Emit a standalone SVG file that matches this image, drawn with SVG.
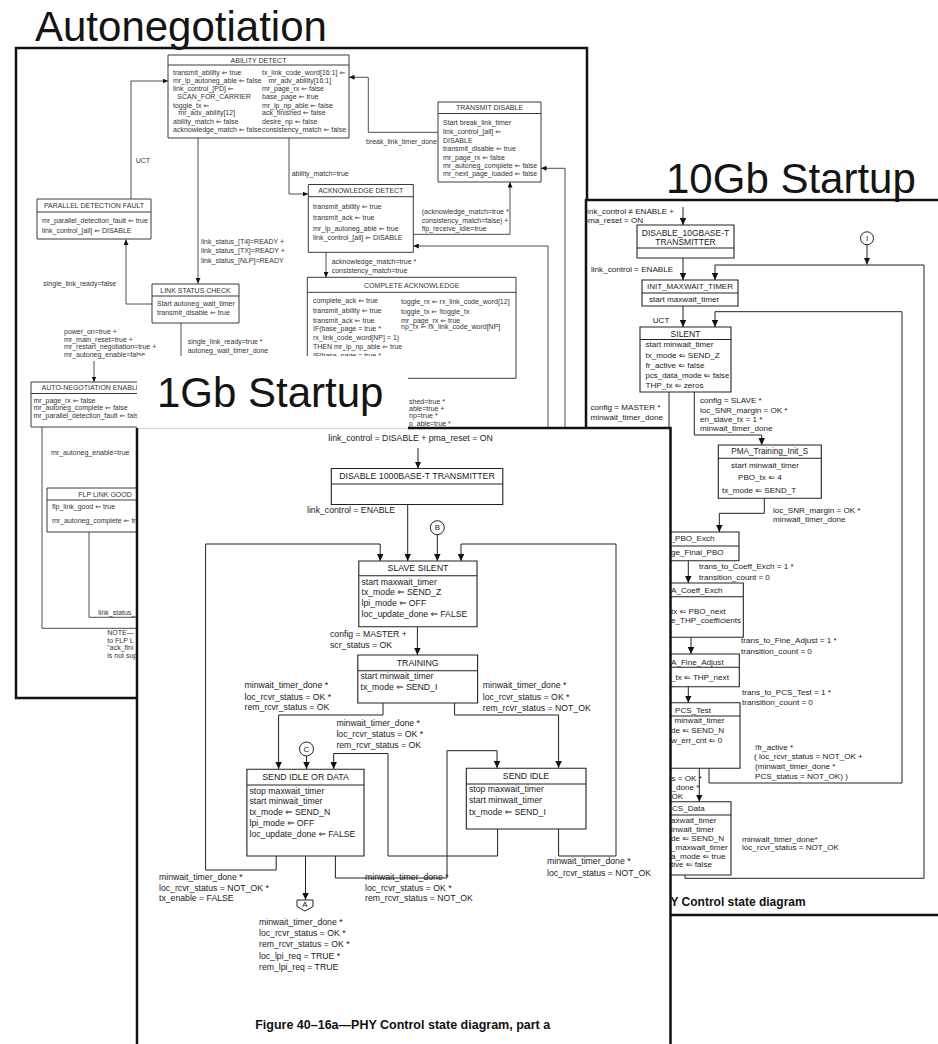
<svg xmlns="http://www.w3.org/2000/svg" width="938" height="1044" viewBox="0 0 938 1044">
<style>
  text { font-family: "Liberation Sans", "DejaVu Sans", Arial, sans-serif; dominant-baseline: central; }
  .title { font-size: 42px; fill: #141414; dominant-baseline: auto; }
  .an { font-size: 7px; fill: #333; }
  .anh { font-size: 7px; fill: #333; text-anchor: middle; }
  .t10 { font-size: 8.1px; fill: #1a1a1a; }
  .h10 { font-size: 8.5px; fill: #1a1a1a; text-anchor: middle; }
  .t1 { font-size: 8.7px; fill: #1a1a1a; }
  .h1 { font-size: 8.8px; fill: #1a1a1a; text-anchor: middle; }
  .cap { font-weight: bold; fill: #111; }
  .page { fill: #fff; stroke: #111; stroke-width: 2.5; }
  .abox { fill: none; stroke: #3a3a3a; stroke-width: 1; }
  .aln { fill: none; stroke: #3a3a3a; stroke-width: 0.9; }
  .box { fill: none; stroke: #222; stroke-width: 1.1; }
  .ln { fill: none; stroke: #222; stroke-width: 1; }
  .arr-s { marker-end: url(#ah-s); }
  .arr { marker-end: url(#ah); }
</style>
<defs>
  <marker id="ah-s" viewBox="0 0 10 10" refX="10" refY="5" markerWidth="5.5" markerHeight="5" markerUnits="userSpaceOnUse" orient="auto" preserveAspectRatio="none">
    <path d="M0,0 L10,5 L0,10 z" fill="#111"/>
  </marker>
  <marker id="ah" viewBox="0 0 10 10" refX="10" refY="5" markerWidth="7" markerHeight="6.5" markerUnits="userSpaceOnUse" orient="auto" preserveAspectRatio="none">
    <path d="M0,0 L10,5 L0,10 z" fill="#111"/>
  </marker>
  <clipPath id="clip10">
    <rect x="587.4" y="201.3" width="351" height="712.5"/>
  </clipPath>
</defs>

<rect width="938" height="1044" fill="#fff"/>

<!-- ===== Auto-negotiation arbitration page ===== -->
<g id="autoneg">
  <rect class="page" x="16" y="48" width="571" height="650"/>

  <g id="an-connectors">
    <polyline class="aln arr-s" points="131,199 131,81 168,81"/>
    <line class="aln arr-s" x1="198" y1="138" x2="198" y2="283.5"/>
    <polyline class="aln arr-s" points="152,304 126,304 126,239.5"/>
    <line class="aln" x1="181" y1="323" x2="181" y2="372"/>
    <line class="aln arr-s" x1="94" y1="361" x2="94" y2="382"/>
    <polyline class="aln" points="42,427 42,628.3 145,628.3"/>
    <polyline class="aln" points="89,532 89,617.3 145,617.3"/>
    <polyline class="aln arr-s" points="438,132.3 368.3,132.3 368.3,77.3 349,77.3"/>
    <polyline class="aln arr-s" points="289,138 289,194 308,194"/>
    <polyline class="aln arr-s" points="413,234.3 510,234.3 510,182"/>
    <polyline class="aln arr-s" points="548,700 548,246 413.3,246"/>
    <polyline class="aln arr-s" points="565,700 565,168.3 541,168.3"/>
    <line class="aln arr-s" x1="326" y1="252.3" x2="326" y2="277.3"/>
  </g>

  <g id="an-labels">
    <text class="an" x="135.7" y="160.7">UCT</text>
    <text class="an" x="201" y="241.7">link_status_[T4]=READY +</text>
    <text class="an" x="201" y="250.7">link_status_[TX]=READY +</text>
    <text class="an" x="201" y="260">link_status_[NLP]=READY</text>
    <text class="an" x="43.3" y="283">single_link_ready=false</text>
    <text class="an" x="187.7" y="341">single_link_ready=true *</text>
    <text class="an" x="187.7" y="350">autoneg_wait_timer_done</text>
    <text class="an" x="64" y="331">power_on=true +</text>
    <text class="an" x="64" y="339">mr_main_reset=true +</text>
    <text class="an" x="64" y="346.5">mr_restart_negotiation=true +</text>
    <text class="an" x="64" y="354">mr_autoneg_enable=false</text>
    <text class="an" x="51" y="452.3">mr_autoneg_enable=true</text>
    <text class="an" x="98.3" y="612.7">link_status_</text>
    <text class="an" x="107.3" y="632.3">NOTE—</text>
    <text class="an" x="107.3" y="640">to FLP L</text>
    <text class="an" x="107.3" y="647.3">"ack_fini</text>
    <text class="an" x="107.3" y="655">is not sup</text>
    <text class="an" x="366" y="141.7">break_link_timer_done</text>
    <text class="an" x="291.7" y="173.3">ability_match=true</text>
    <text class="an" x="421.7" y="211">(acknowledge_match=true *</text>
    <text class="an" x="421.7" y="220">consistency_match=false) +</text>
    <text class="an" x="421.7" y="228.5">flp_receive_idle=true</text>
    <text class="an" x="331.7" y="261.7">acknowledge_match=true *</text>
    <text class="an" x="331.7" y="270">consistency_match=true</text>
    <text class="an" x="409" y="401">shed=true *</text>
    <text class="an" x="409" y="408">able=true +</text>
    <text class="an" x="409" y="415.7">np=true *</text>
    <text class="an" x="409" y="423.3">p_able=true *</text>
  </g>

  <g id="ability-detect">
    <path class="abox" d="M168,55h181v83h-181z M168,65h181"/>
    <text class="anh" x="258.5" y="60">ABILITY DETECT</text>
    <text class="an" x="173" y="72.7">transmit_ability ⇐ true</text>
    <text class="an" x="173" y="80.3">mr_lp_autoneg_able ⇐ false</text>
    <text class="an" x="173" y="88.3">link_control_[PD] ⇐</text>
    <text class="an" x="177.3" y="96.7">SCAN_FOR_CARRIER</text>
    <text class="an" x="173" y="105">toggle_tx ⇐</text>
    <text class="an" x="178.3" y="112.7">mr_adv_ability[12]</text>
    <text class="an" x="173" y="121">ability_match ⇐ false</text>
    <text class="an" x="173" y="129.3">acknowledge_match ⇐ false</text>
    <text class="an" x="262" y="72.7">tx_link_code_word[16:1] ⇐</text>
    <text class="an" x="268.5" y="80.3">mr_adv_ability[16:1]</text>
    <text class="an" x="262" y="88.3">mr_page_rx ⇐ false</text>
    <text class="an" x="262" y="96.7">base_page ⇐ true</text>
    <text class="an" x="262" y="105">mr_lp_np_able ⇐ false</text>
    <text class="an" x="262" y="112.7">ack_finished ⇐ false</text>
    <text class="an" x="262" y="121">desire_np ⇐ false</text>
    <text class="an" x="262" y="129.3">consistency_match ⇐ false</text>
  </g>

  <g id="parallel-detection-fault">
    <path class="abox" d="M37,199h114v40h-114z M37,212h114"/>
    <text class="anh" x="94" y="205.5">PARALLEL DETECTION FAULT</text>
    <text class="an" x="42" y="220.7">mr_parallel_detection_fault ⇐ true</text>
    <text class="an" x="42" y="230">link_control_[all] ⇐ DISABLE</text>
  </g>

  <g id="link-status-check">
    <path class="abox" d="M152,284h87v39h-87z M152,296h87"/>
    <text class="anh" x="195.5" y="290">LINK STATUS CHECK</text>
    <text class="an" x="157" y="303.5">Start autoneg_wait_timer</text>
    <text class="an" x="157" y="312.5">transmit_disable ⇐ true</text>
  </g>

  <g id="auto-negotiation-enable">
    <path class="abox" d="M31,382h120v45h-120z M31,393.5h120"/>
    <text class="anh" x="91" y="387.7">AUTO-NEGOTIATION ENABLE</text>
    <text class="an" x="33.5" y="400">mr_page_rx ⇐ false</text>
    <text class="an" x="33.5" y="407.7">mr_autoneg_complete ⇐ false</text>
    <text class="an" x="33.5" y="415">mr_parallel_detection_fault ⇐ false</text>
  </g>

  <g id="flp-link-good">
    <path class="abox" d="M47,488h116v44h-116z M47,500h116"/>
    <text class="anh" x="105" y="494.3">FLP LINK GOOD</text>
    <text class="an" x="52" y="506">flp_link_good ⇐ true</text>
    <text class="an" x="52" y="520.7">mr_autoneg_complete ⇐ true</text>
  </g>

  <g id="transmit-disable">
    <path class="abox" d="M438,102h103v80h-103z M438,113.5h103"/>
    <text class="anh" x="489.5" y="107.7">TRANSMIT DISABLE</text>
    <text class="an" x="443" y="122.3">Start break_link_timer</text>
    <text class="an" x="443" y="131">link_control_[all] ⇐</text>
    <text class="an" x="443" y="140.7">DISABLE</text>
    <text class="an" x="443" y="148.7">transmit_disable ⇐ true</text>
    <text class="an" x="443" y="157.3">mr_page_rx ⇐ false</text>
    <text class="an" x="443" y="165.3">mr_autoneg_complete ⇐ false</text>
    <text class="an" x="443" y="173.3">mr_next_page_loaded ⇐ false</text>
  </g>

  <g id="acknowledge-detect">
    <path class="abox" d="M308.3,184.5h105v67.8h-105z M308.3,196.7h105"/>
    <text class="anh" x="360.8" y="190.5">ACKNOWLEDGE DETECT</text>
    <text class="an" x="313" y="206.7">transmit_ability ⇐ true</text>
    <text class="an" x="313" y="217.3">transmit_ack ⇐ true</text>
    <text class="an" x="313" y="228.3">mr_lp_autoneg_able ⇐ true</text>
    <text class="an" x="313" y="237.7">link_control_[all] ⇐ DISABLE</text>
  </g>

  <g id="complete-acknowledge">
    <path class="abox" d="M307.3,277.3h208.7v101h-208.7z M307.3,292.3h208.7"/>
    <text class="anh" x="411.7" y="285.5">COMPLETE ACKNOWLEDGE</text>
    <text class="an" x="313" y="300">complete_ack ⇐ true</text>
    <text class="an" x="313" y="310">transmit_ability ⇐ true</text>
    <text class="an" x="313" y="320">transmit_ack ⇐ true</text>
    <text class="an" x="313" y="328.3">IF(base_page = true *</text>
    <text class="an" x="313" y="337.7">rx_link_code_word[NP] = 1)</text>
    <text class="an" x="313" y="346.7">THEN mr_lp_np_able ⇐ true</text>
    <text class="an" x="313" y="355">IF(base_page = true *</text>
    <text class="an" x="401" y="301.7">toggle_rx ⇐ rx_link_code_word[12]</text>
    <text class="an" x="401" y="311">toggle_tx ⇐ !toggle_tx</text>
    <text class="an" x="401" y="320">mr_page_rx ⇐ true</text>
    <text class="an" x="401" y="326">np_rx ⇐ rx_link_code_word[NP]</text>
  </g>
</g>

<text class="title" x="35" y="41">Autonegotiation</text>

<!-- ===== 10GBASE-T startup page ===== -->
<g id="startup-10g">
  <rect class="page" x="586" y="200" width="360" height="715"/>
  <g clip-path="url(#clip10)">
    <g id="g10-connectors">
      <line class="ln arr" x1="683" y1="207" x2="683" y2="225"/>
      <line class="ln arr" x1="683" y1="258" x2="683" y2="280"/>
      <line class="ln arr" x1="867" y1="245" x2="867" y2="264.5"/>
      <polyline class="ln arr" points="685,875 685,878.3 924,878.3 924,265 715,265 715,280"/>
      <line class="ln arr" x1="683" y1="306" x2="683" y2="327"/>
      <polyline class="ln arr" points="709,768.3 709,783 902,783 902,311.7 715,311.7 715,327"/>
      <line class="ln" x1="669" y1="392" x2="669" y2="440"/>
      <polyline class="ln arr" points="694.3,392 694.3,435 761.7,435 761.7,445"/>
      <polyline class="ln arr" points="764.3,498.3 764.3,513.3 719.3,513.3 719.3,532"/>
      <line class="ln arr" x1="688.3" y1="560.7" x2="688.3" y2="583"/>
      <line class="ln arr" x1="691" y1="637.3" x2="691" y2="654"/>
      <line class="ln arr" x1="688.3" y1="686.7" x2="688.3" y2="702.7"/>
      <line class="ln arr" x1="699.3" y1="768.3" x2="699.3" y2="801.7"/>
    </g>

    <g id="g10-labels">
      <text class="t10" x="585.3" y="211">link_control ≠ ENABLE +</text>
      <text class="t10" x="583.5" y="220">pma_reset = ON</text>
      <text class="t10" x="591" y="269">link_control = ENABLE</text>
      <text class="t10" x="652.7" y="320.7">UCT</text>
      <text class="t10" x="590.5" y="407">config = MASTER *</text>
      <text class="t10" x="590.5" y="417">minwait_timer_done</text>
      <text class="t10" x="700" y="400.7">config = SLAVE *</text>
      <text class="t10" x="700" y="410.3">loc_SNR_margin = OK *</text>
      <text class="t10" x="700" y="419.7">en_slave_tx = 1 *</text>
      <text class="t10" x="700" y="428.7">minwait_timer_done</text>
      <text class="t10" x="773" y="510">loc_SNR_margin = OK *</text>
      <text class="t10" x="773" y="519.3">minwait_timer_done</text>
      <text class="t10" x="699" y="566.7">trans_to_Coeff_Exch = 1 *</text>
      <text class="t10" x="699" y="577.7">transition_count = 0</text>
      <text class="t10" x="741" y="640.7">trans_to_Fine_Adjust = 1 *</text>
      <text class="t10" x="741" y="651">transition_count = 0</text>
      <text class="t10" x="742" y="692.7">trans_to_PCS_Test = 1 *</text>
      <text class="t10" x="742" y="702.3">transition_count = 0</text>
      <text class="t10" x="755" y="747.3">!fr_active *</text>
      <text class="t10" x="754" y="756.7">( loc_rcvr_status = NOT_OK +</text>
      <text class="t10" x="755" y="766.7">(minwait_timer_done *</text>
      <text class="t10" x="755" y="776">PCS_status = NOT_OK) )</text>
      <text class="t10" x="671.5" y="778.3">s = OK *</text>
      <text class="t10" x="671.5" y="787.3">_done *</text>
      <text class="t10" x="671.5" y="796.3">OK</text>
      <text class="t10" x="742" y="839">minwait_timer_done*</text>
      <text class="t10" x="742" y="847.3">loc_rcvr_status = NOT_OK</text>
      <text class="cap" x="670.5" y="901.7" style="font-size:12px">Y Control state diagram</text>
    </g>

    <g id="disable-10gbase-t-transmitter">
      <path class="box" d="M637,225h97v33h-97z M637,248h97"/>
      <text class="h10" x="685.5" y="232.5">DISABLE_10GBASE-T</text>
      <text class="h10" x="685.5" y="241.7">TRANSMITTER</text>
    </g>

    <g id="connector-i">
      <circle cx="867" cy="238.3" r="6.5" fill="#fff" stroke="#222" stroke-width="1"/>
      <text class="h10" x="867" y="238.3" style="font-size:8px">I</text>
    </g>

    <g id="init-maxwait-timer">
      <path class="box" d="M642,280h96v26h-96z M642,293h96"/>
      <text class="h10" x="690" y="286.7" style="font-size:8px">INIT_MAXWAIT_TIMER</text>
      <text class="t10" x="649" y="299.3">start maxwait_timer</text>
    </g>

    <g id="silent">
      <path class="box" d="M640,327h91v65h-91z M640,339.5h91"/>
      <text class="h10" x="685.5" y="333.5">SILENT</text>
      <text class="t10" x="645.5" y="344.3">start minwait_timer</text>
      <text class="t10" x="645.5" y="355">tx_mode ⇐ SEND_Z</text>
      <text class="t10" x="645.5" y="365">fr_active ⇐ false</text>
      <text class="t10" x="645.5" y="375" style="font-size:7.9px">pcs_data_mode ⇐ false</text>
      <text class="t10" x="645.5" y="385">THP_tx ⇐ zeros</text>
    </g>

    <g id="pma-training-init-s">
      <path class="box" d="M718.3,445h103v53.3h-103z M718.3,458.3h103"/>
      <text class="h10" x="769.8" y="451.7" style="font-size:8.2px">PMA_Training_Init_S</text>
      <text class="t10" x="731" y="465.7">start minwait_timer</text>
      <text class="t10" x="738" y="477.7">PBO_tx ⇐ 4</text>
      <text class="t10" x="722" y="490">tx_mode ⇐ SEND_T</text>
    </g>

    <g id="pma-pbo-exch">
      <path class="box" d="M640,532h99v28.7h-99z M640,546h99"/>
      <text class="t10" x="670.5" y="538.5">_PBO_Exch</text>
      <text class="t10" x="671" y="552.7">ge_Final_PBO</text>
    </g>

    <g id="pma-coeff-exch">
      <path class="box" d="M640,583h103.3v54.3h-103.3z M640,596.7h103.3"/>
      <text class="t10" x="671" y="590">A_Coeff_Exch</text>
      <text class="t10" x="671" y="611.7">tx ⇐ PBO_next</text>
      <text class="t10" x="671" y="620.7">e_THP_coefficients</text>
    </g>

    <g id="pma-fine-adjust">
      <path class="box" d="M640,654h99.3v32.7h-99.3z M640,667.3h99.3"/>
      <text class="t10" x="671" y="662.5">A_Fine_Adjust</text>
      <text class="t10" x="671" y="677.8">_tx ⇐ THP_next</text>
    </g>

    <g id="pcs-test">
      <path class="box" d="M640,702.7h100v65.6h-100z M640,716h100"/>
      <text class="t10" x="675" y="710">PCS_Test</text>
      <text class="t10" x="674.5" y="720.7">minwait_timer</text>
      <text class="t10" x="671" y="730.7">de ⇐ SEND_N</text>
      <text class="t10" x="671" y="740.7">w_err_cnt ⇐ 0</text>
    </g>

    <g id="pcs-data">
      <path class="box" d="M640,801.7h91v73.3h-91z M640,815h91"/>
      <text class="t10" x="672" y="808.3">CS_Data</text>
      <text class="t10" x="671" y="820">axwait_timer</text>
      <text class="t10" x="671" y="829">inwait_timer</text>
      <text class="t10" x="671" y="838.7">de ⇐ SEND_N</text>
      <text class="t10" x="671" y="847.3">_maxwait_timer</text>
      <text class="t10" x="671" y="856">a_mode ⇐ true</text>
      <text class="t10" x="671" y="864.7">tive ⇐ false</text>
    </g>
  </g>
</g>

<text class="title" x="666" y="193">10Gb Startup</text>

<!-- ===== 1000BASE-T startup page ===== -->
<rect x="137" y="356" width="271" height="72" fill="#fff"/>
<text class="title" x="157" y="407">1Gb Startup</text>

<g id="startup-1g">
  <rect x="137" y="428" width="533" height="620" fill="#fff"/>
  <line x1="137" y1="428.5" x2="408" y2="428.5" stroke="#d4d4d4" stroke-width="1"/>
  <path d="M408,428H670.5V1044 M137,428V1044" fill="none" stroke="#111" stroke-width="2.5"/>

  <g id="g1-connectors">
    <line class="ln arr" x1="418" y1="448" x2="418" y2="468.5"/>
    <line class="ln arr" x1="407.7" y1="504.5" x2="407.7" y2="561"/>
    <line class="ln arr" x1="437.3" y1="534.8" x2="437.3" y2="561"/>
    <polyline class="ln arr" points="276.2,856 276.2,870 205.6,870 205.6,544 380.2,544 380.2,561"/>
    <polyline class="ln arr" points="558.6,829 558.6,856 616,856 616,544 461,544 461,561"/>
    <line class="ln arr" x1="417.4" y1="627" x2="417.4" y2="655"/>
    <polyline class="ln arr" points="383,703 383,715 278.6,715 278.6,769"/>
    <polyline class="ln arr" points="454.6,703 454.6,715 558.6,715 558.6,768"/>
    <line class="ln arr" x1="306.5" y1="756" x2="306.5" y2="769"/>
    <polyline class="ln arr" points="497.6,829 497.6,856 388,856 388,753.5 333.7,753.5 333.7,769"/>
    <polyline class="ln arr" points="335.4,856 335.4,878 447,878 447,750.7 497,750.7 497,768"/>
    <line class="ln arr" x1="305.5" y1="856" x2="305.5" y2="899.8"/>
  </g>

  <g id="g1-labels">
    <text class="t1" x="410.5" y="438.3" text-anchor="middle">link_control = DISABLE + pma_reset = ON</text>
    <text class="t1" x="307" y="510">link_control = ENABLE</text>
    <text class="t1" x="330" y="634">config = MASTER +</text>
    <text class="t1" x="330" y="645">scr_status = OK</text>
    <text class="t1" x="244.5" y="685">minwait_timer_done *</text>
    <text class="t1" x="244.5" y="696.5">loc_rcvr_status = OK *</text>
    <text class="t1" x="244.5" y="707">rem_rcvr_status = OK</text>
    <text class="t1" x="482.8" y="685">minwait_timer_done *</text>
    <text class="t1" x="482.8" y="696.5">loc_rcvr_status = OK *</text>
    <text class="t1" x="482.8" y="707.5">rem_rcvr_status = NOT_OK</text>
    <text class="t1" x="336.4" y="723.3">minwait_timer_done *</text>
    <text class="t1" x="336.4" y="734.3">loc_rcvr_status = OK *</text>
    <text class="t1" x="336.4" y="745">rem_rcvr_status = OK</text>
    <text class="t1" x="547" y="861">minwait_timer_done *</text>
    <text class="t1" x="547" y="872.7">loc_rcvr_status = NOT_OK</text>
    <text class="t1" x="159" y="877">minwait_timer_done *</text>
    <text class="t1" x="159" y="887.7">loc_rcvr_status = NOT_OK *</text>
    <text class="t1" x="159" y="898.3">tx_enable = FALSE</text>
    <text class="t1" x="365" y="877">minwait_timer_done *</text>
    <text class="t1" x="365" y="887.7">loc_rcvr_status = OK *</text>
    <text class="t1" x="365" y="898.3">rem_rcvr_status = NOT_OK</text>
    <text class="t1" x="259" y="921.7">minwait_timer_done *</text>
    <text class="t1" x="259" y="932.7">loc_rcvr_status = OK *</text>
    <text class="t1" x="259" y="944">rem_rcvr_status = OK *</text>
    <text class="t1" x="259" y="955.7">loc_lpi_req = TRUE *</text>
    <text class="t1" x="259" y="966.7">rem_lpi_req = TRUE</text>
    <text class="cap" x="402.7" y="1025" text-anchor="middle" style="font-size:12.5px">Figure 40–16a—PHY Control state diagram, part a</text>
  </g>

  <g id="disable-1000base-t-transmitter">
    <path class="box" d="M331.3,468.5h171.5v36h-171.5z M331.3,484h171.5"/>
    <text class="h1" x="417" y="476.2">DISABLE 1000BASE-T TRANSMITTER</text>
  </g>

  <g id="connector-b">
    <circle cx="437.3" cy="527.7" r="7" fill="#fff" stroke="#222" stroke-width="1"/>
    <text class="h1" x="437.3" y="527.9" style="font-size:8px">B</text>
  </g>

  <g id="slave-silent">
    <path class="box" d="M358.8,561h118.2v65.7h-118.2z M358.8,575.7h118.2"/>
    <text class="h1" x="418" y="568.4">SLAVE SILENT</text>
    <text class="t1" x="361.5" y="581.5">start maxwait_timer</text>
    <text class="t1" x="361.5" y="592">tx_mode ⇐ SEND_Z</text>
    <text class="t1" x="361.5" y="603.3">lpi_mode ⇐ OFF</text>
    <text class="t1" x="361.5" y="614.3">loc_update_done ⇐ FALSE</text>
  </g>

  <g id="training">
    <path class="box" d="M357.8,655h119.8v48h-119.8z M357.8,670.7h119.8"/>
    <text class="h1" x="417.7" y="662.8">TRAINING</text>
    <text class="t1" x="360.5" y="676.3">start minwait_timer</text>
    <text class="t1" x="360.5" y="687">tx_mode ⇐ SEND_I</text>
  </g>

  <g id="connector-c">
    <circle cx="306.5" cy="749" r="7" fill="#fff" stroke="#222" stroke-width="1"/>
    <text class="h1" x="306.5" y="749.2" style="font-size:8px">C</text>
  </g>

  <g id="send-idle-or-data">
    <path class="box" d="M246.9,769.3h117.1v86.7h-117.1z M246.9,785h117.1"/>
    <text class="h1" x="305.5" y="777">SEND IDLE OR DATA</text>
    <text class="t1" x="249.5" y="790.5">stop maxwait_timer</text>
    <text class="t1" x="249.5" y="801.3">start minwait_timer</text>
    <text class="t1" x="249.5" y="812">tx_mode ⇐ SEND_N</text>
    <text class="t1" x="249.5" y="822.7">lpi_mode ⇐ OFF</text>
    <text class="t1" x="249.5" y="833.7">loc_update_done ⇐ FALSE</text>
  </g>

  <g id="send-idle">
    <path class="box" d="M466.3,768.3h119.7v60.7h-119.7z M466.3,784h119.7"/>
    <text class="h1" x="526" y="776">SEND IDLE</text>
    <text class="t1" x="469" y="789.3">stop maxwait_timer</text>
    <text class="t1" x="469" y="800.3">start minwait_timer</text>
    <text class="t1" x="469" y="811.5">tx_mode ⇐ SEND_I</text>
  </g>

  <g id="connector-a">
    <path d="M297,900h16v6.5l-8,4.5l-8,-4.5z" fill="#fff" stroke="#222" stroke-width="1"/>
    <text class="h1" x="305" y="904.8" style="font-size:8px">A</text>
  </g>
</g>
</svg>
